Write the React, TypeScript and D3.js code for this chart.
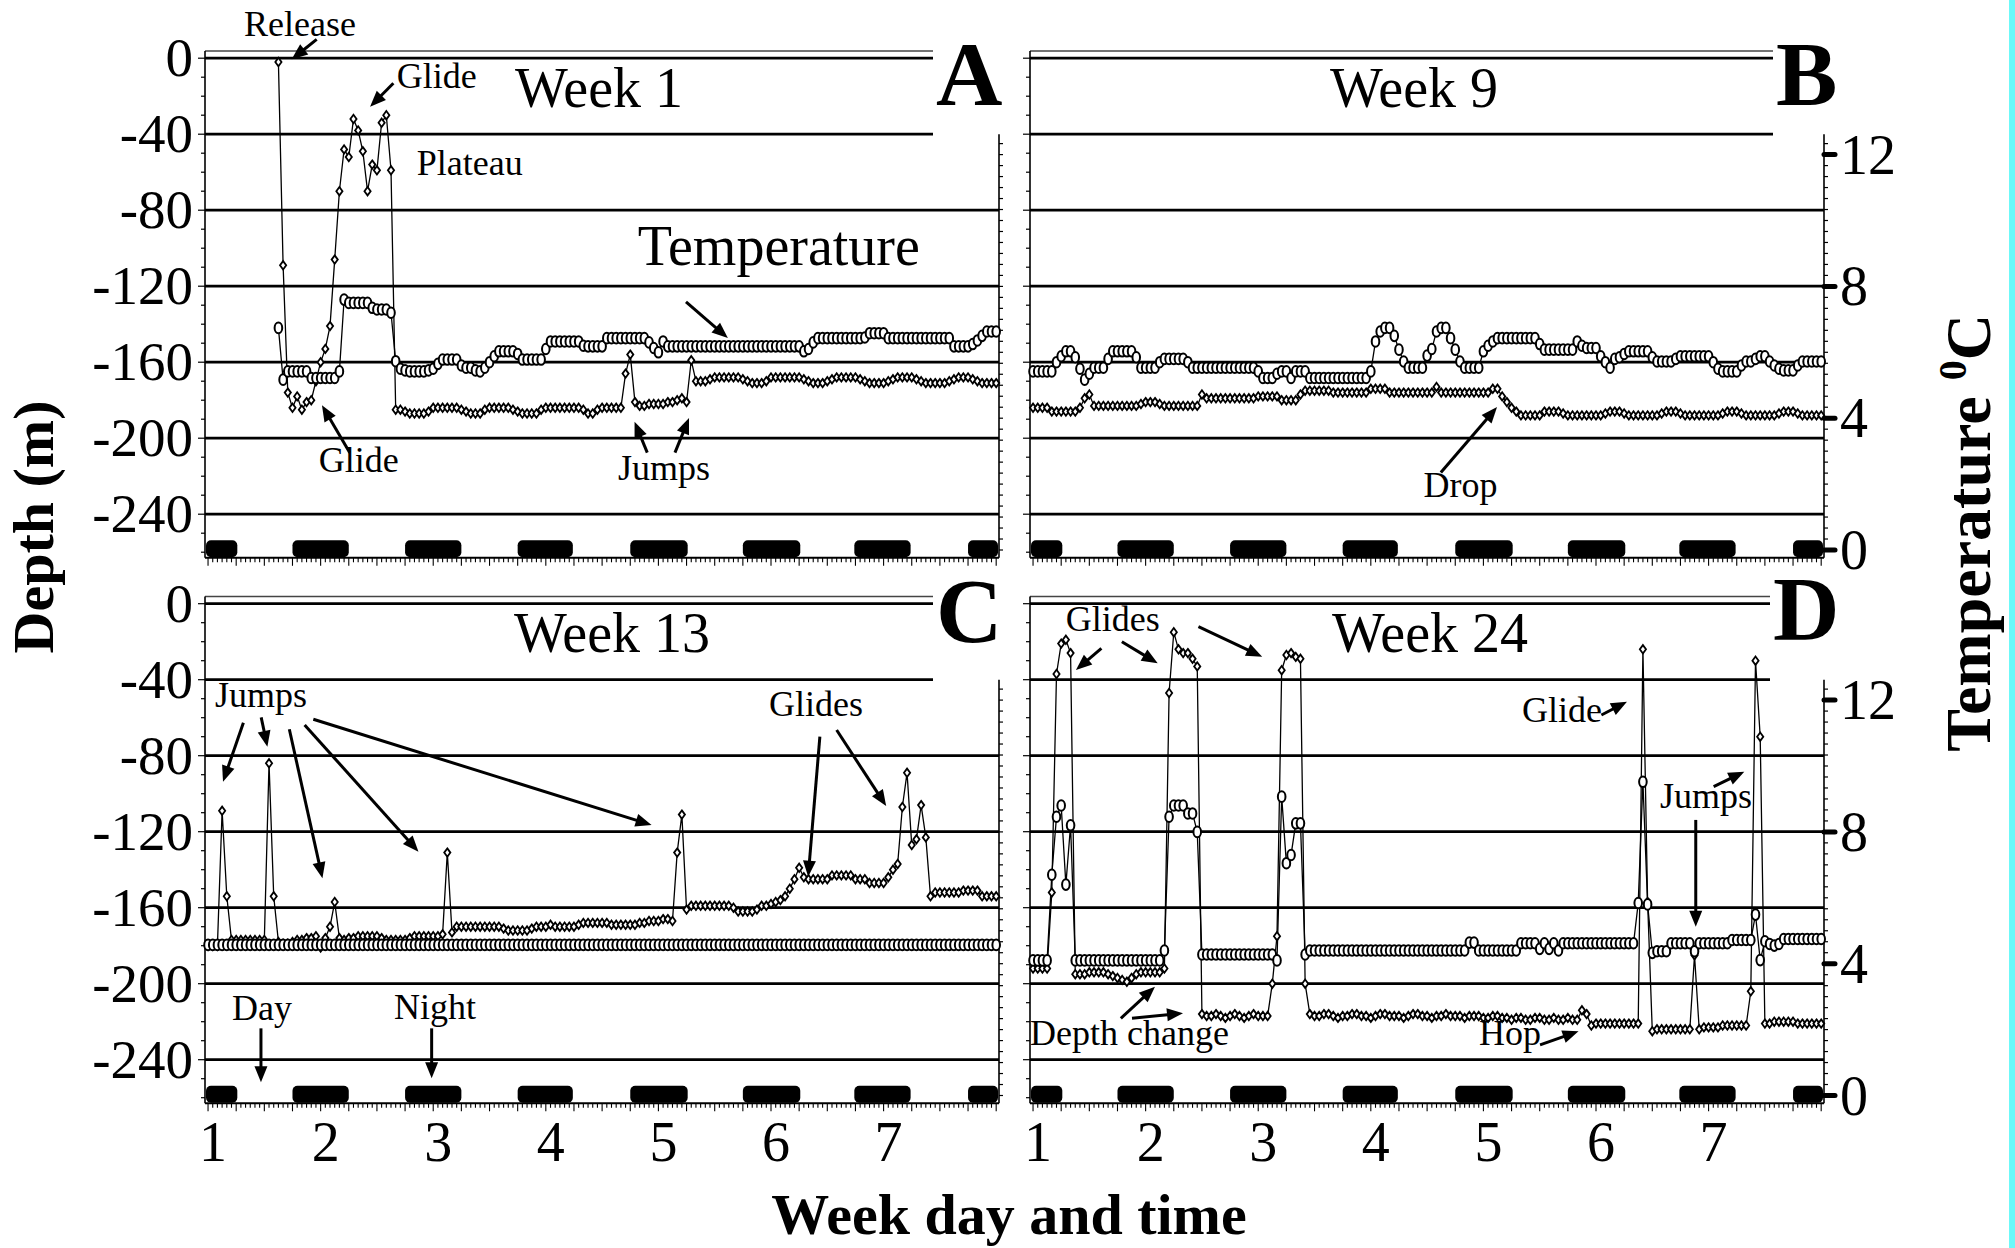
import React from "react";
import * as d3 from "d3";

const FONT = '"Liberation Serif", "Times New Roman", Times, serif';

// night periods (day units)
const nightStart = [0.75, 1.75, 2.75, 3.75, 4.75, 5.75, 6.74, 7.75];
const nightEnd = [1.26, 2.25, 3.25, 4.24, 5.26, 6.26, 7.24, 8.26];

const depthTicks = [0, -40, -80, -120, -160, -200, -240];
const tempTicks = [0, 4, 8, 12];
const dayTicks = [1, 2, 3, 4, 5, 6, 7];

// hourly samples; week 1 starts at release
const startA = 1.625;
const depthA = [
  -2, -109, -176, -184, -178, -185, -181, -180, -170, -160,
  -153, -141, -106, -70, -48, -52, -32, -38, -49, -70,
  -56, -59, -34, -30, -59, -185, -185, -186, -187, -187,
  -187, -187, -186, -184, -184, -184, -184, -184, -184, -185,
  -186, -187, -187, -187, -185, -184, -184, -184, -184, -184,
  -185, -186, -187, -187, -187, -187, -185, -184, -184, -184,
  -184, -184, -184, -184, -184, -185, -187, -187, -185, -184,
  -184, -184, -184, -184, -166, -156, -181, -183, -183, -182,
  -182, -182, -182, -181, -181, -180, -179, -181, -159, -170,
  -170, -170, -169, -168, -168, -168, -168, -168, -168, -169,
  -170, -171, -171, -171, -170, -168, -168, -168, -168, -168,
  -168, -168, -169, -170, -171, -171, -171, -170, -169, -168,
  -168, -168, -168, -168, -169, -170, -171, -171, -171, -171,
  -170, -169, -168, -168, -168, -168, -169, -170, -171, -171,
  -171, -171, -171, -170, -169, -168, -168, -168, -169, -170,
  -171, -171, -171, -171,
];
const tempA = [
  6.74, 5.17, 5.42, 5.42, 5.42, 5.42, 5.42, 5.22, 5.22, 5.22,
  5.22, 5.22, 5.22, 5.42, 7.6, 7.5, 7.5, 7.5, 7.5, 7.5,
  7.35, 7.3, 7.3, 7.3, 7.2, 5.73, 5.5, 5.45, 5.42, 5.42,
  5.42, 5.42, 5.45, 5.5, 5.65, 5.78, 5.78, 5.78, 5.78, 5.6,
  5.53, 5.53, 5.45, 5.42, 5.53, 5.7, 5.88, 6.03, 6.03, 6.03,
  6.03, 5.95, 5.78, 5.78, 5.78, 5.78, 5.78, 6.1, 6.33, 6.33,
  6.33, 6.33, 6.33, 6.33, 6.33, 6.2, 6.18, 6.18, 6.18, 6.18,
  6.43, 6.43, 6.43, 6.43, 6.43, 6.43, 6.43, 6.43, 6.43, 6.3,
  6.13, 6.0, 6.33, 6.18, 6.18, 6.18, 6.18, 6.18, 6.18, 6.18,
  6.18, 6.18, 6.18, 6.18, 6.18, 6.18, 6.18, 6.18, 6.18, 6.18,
  6.18, 6.18, 6.18, 6.18, 6.18, 6.18, 6.18, 6.18, 6.18, 6.18,
  6.18, 6.18, 6.03, 6.1, 6.3, 6.43, 6.43, 6.43, 6.43, 6.43,
  6.43, 6.43, 6.43, 6.43, 6.43, 6.45, 6.58, 6.58, 6.58, 6.58,
  6.43, 6.43, 6.43, 6.43, 6.43, 6.43, 6.43, 6.43, 6.43, 6.43,
  6.43, 6.43, 6.43, 6.43, 6.18, 6.18, 6.18, 6.18, 6.25, 6.36,
  6.5, 6.63, 6.63, 6.63,
];

const startB = 1;
const depthB = [
  -184, -184, -184, -184, -186, -186, -186, -186, -186, -186,
  -184, -179, -177, -183, -183, -183, -183, -183, -183, -183,
  -183, -183, -183, -182, -181, -181, -181, -182, -183, -183,
  -183, -183, -183, -183, -183, -183, -177, -179, -179, -179,
  -179, -179, -179, -179, -179, -179, -179, -179, -178, -178,
  -178, -178, -178, -180, -180, -180, -180, -177, -175, -175,
  -175, -175, -175, -175, -176, -176, -176, -176, -176, -176,
  -176, -176, -174, -174, -174, -174, -176, -176, -176, -176,
  -176, -176, -176, -176, -176, -176, -173, -176, -176, -176,
  -176, -176, -176, -176, -176, -176, -176, -176, -174, -174,
  -178, -181, -184, -186, -188, -188, -188, -188, -188, -186,
  -186, -186, -186, -187, -188, -188, -188, -188, -188, -188,
  -188, -188, -187, -186, -186, -186, -187, -188, -188, -188,
  -188, -188, -188, -188, -187, -186, -186, -186, -187, -188,
  -188, -188, -188, -188, -188, -188, -188, -187, -186, -186,
  -186, -187, -188, -188, -188, -188, -188, -188, -188, -187,
  -186, -186, -186, -187, -188, -188, -188, -188, -188,
];
const tempB = [
  5.42, 5.42, 5.42, 5.42, 5.42, 5.7, 5.88, 6.03, 6.03, 5.85,
  5.5, 5.17, 5.35, 5.53, 5.53, 5.53, 5.8, 6.03, 6.03, 6.03,
  6.03, 6.03, 5.85, 5.53, 5.53, 5.53, 5.53, 5.7, 5.8, 5.8,
  5.8, 5.8, 5.8, 5.7, 5.53, 5.53, 5.53, 5.53, 5.53, 5.53,
  5.53, 5.53, 5.53, 5.53, 5.53, 5.53, 5.53, 5.53, 5.42, 5.22,
  5.22, 5.22, 5.35, 5.42, 5.42, 5.22, 5.42, 5.42, 5.42, 5.22,
  5.22, 5.22, 5.22, 5.22, 5.22, 5.22, 5.22, 5.22, 5.22, 5.22,
  5.22, 5.22, 5.42, 6.33, 6.63, 6.74, 6.74, 6.5, 6.08, 5.72,
  5.53, 5.53, 5.53, 5.53, 5.9, 6.1, 6.63, 6.74, 6.74, 6.43,
  6.08, 5.72, 5.53, 5.53, 5.53, 5.53, 6.03, 6.2, 6.33, 6.43,
  6.43, 6.43, 6.43, 6.43, 6.43, 6.43, 6.43, 6.43, 6.25, 6.08,
  6.08, 6.08, 6.08, 6.08, 6.08, 6.08, 6.33, 6.2, 6.13, 6.13,
  6.13, 5.88, 5.7, 5.53, 5.8, 5.85, 5.95, 6.03, 6.03, 6.03,
  6.03, 6.03, 5.85, 5.72, 5.72, 5.72, 5.72, 5.8, 5.88, 5.88,
  5.88, 5.88, 5.88, 5.88, 5.88, 5.7, 5.5, 5.42, 5.42, 5.42,
  5.42, 5.6, 5.72, 5.72, 5.8, 5.88, 5.88, 5.72, 5.6, 5.5,
  5.45, 5.45, 5.45, 5.6, 5.72, 5.72, 5.72, 5.72, 5.72,
];

const startC = 1;
const depthC = [
  -180, -180, -180, -109, -154, -177, -177, -177, -177, -177,
  -177, -177, -177, -84, -154, -178, -179, -179, -178, -177,
  -177, -176, -176, -175, -181, -176, -170, -157, -176, -177,
  -176, -176, -175, -175, -175, -175, -175, -176, -177, -177,
  -177, -177, -177, -176, -175, -175, -175, -175, -175, -175,
  -174, -131, -173, -170, -170, -170, -170, -170, -170, -170,
  -170, -170, -170, -171, -172, -172, -172, -172, -172, -171,
  -170, -170, -170, -169, -170, -170, -170, -170, -170, -169,
  -168, -168, -168, -168, -168, -168, -169, -169, -169, -169,
  -169, -169, -168, -168, -167, -167, -167, -166, -166, -167,
  -131, -111, -161, -159, -159, -159, -159, -159, -159, -159,
  -159, -159, -160, -162, -162, -162, -162, -161, -159, -159,
  -158, -157, -156, -154, -150, -145, -139, -144, -145, -145,
  -145, -145, -145, -143, -143, -143, -143, -143, -145, -145,
  -145, -147, -147, -147, -147, -144, -140, -137, -107, -89,
  -127, -124, -106, -123, -154, -152, -152, -152, -152, -152,
  -152, -151, -151, -151, -151, -154, -154, -154, -154,
];
const tempC = [
  4.57, 4.57, 4.57, 4.57, 4.57, 4.57, 4.57, 4.57, 4.57, 4.57,
  4.57, 4.57, 4.57, 4.57, 4.57, 4.57, 4.57, 4.57, 4.57, 4.57,
  4.57, 4.57, 4.57, 4.57, 4.57, 4.57, 4.57, 4.57, 4.57, 4.57,
  4.57, 4.57, 4.57, 4.57, 4.57, 4.57, 4.57, 4.57, 4.57, 4.57,
  4.57, 4.57, 4.57, 4.57, 4.57, 4.57, 4.57, 4.57, 4.57, 4.57,
  4.57, 4.57, 4.57, 4.57, 4.57, 4.57, 4.57, 4.57, 4.57, 4.57,
  4.57, 4.57, 4.57, 4.57, 4.57, 4.57, 4.57, 4.57, 4.57, 4.57,
  4.57, 4.57, 4.57, 4.57, 4.57, 4.57, 4.57, 4.57, 4.57, 4.57,
  4.57, 4.57, 4.57, 4.57, 4.57, 4.57, 4.57, 4.57, 4.57, 4.57,
  4.57, 4.57, 4.57, 4.57, 4.57, 4.57, 4.57, 4.57, 4.57, 4.57,
  4.57, 4.57, 4.57, 4.57, 4.57, 4.57, 4.57, 4.57, 4.57, 4.57,
  4.57, 4.57, 4.57, 4.57, 4.57, 4.57, 4.57, 4.57, 4.57, 4.57,
  4.57, 4.57, 4.57, 4.57, 4.57, 4.57, 4.57, 4.57, 4.57, 4.57,
  4.57, 4.57, 4.57, 4.57, 4.57, 4.57, 4.57, 4.57, 4.57, 4.57,
  4.57, 4.57, 4.57, 4.57, 4.57, 4.57, 4.57, 4.57, 4.57, 4.57,
  4.57, 4.57, 4.57, 4.57, 4.57, 4.57, 4.57, 4.57, 4.57, 4.57,
  4.57, 4.57, 4.57, 4.57, 4.57, 4.57, 4.57, 4.57, 4.57,
];

const startD = 1;
const depthD = [
  -192, -192, -192, -192, -152, -37, -21, -19, -26, -195,
  -195, -195, -194, -194, -194, -194, -195, -196, -197, -198,
  -199, -197, -195, -194, -194, -194, -194, -194, -192, -47,
  -15, -24, -26, -26, -29, -33, -216, -217, -217, -216,
  -217, -218, -217, -216, -217, -218, -217, -216, -217, -217,
  -217, -200, -175, -35, -27, -26, -28, -29, -200, -216,
  -217, -217, -216, -216, -217, -218, -217, -217, -216, -216,
  -217, -217, -218, -217, -216, -216, -217, -217, -217, -218,
  -217, -216, -216, -217, -217, -218, -217, -217, -216, -217,
  -217, -217, -218, -217, -217, -217, -218, -218, -217, -217,
  -218, -218, -219, -218, -218, -219, -219, -218, -218, -219,
  -219, -218, -219, -219, -218, -219, -219, -214, -216, -222,
  -221, -221, -221, -221, -221, -221, -221, -221, -221, -221,
  -24, -157, -225, -224, -224, -224, -224, -224, -224, -224,
  -224, -185, -224, -223, -223, -223, -223, -222, -222, -222,
  -222, -222, -222, -204, -30, -70, -221, -221, -220, -220,
  -220, -220, -220, -221, -221, -221, -221, -221, -221,
];
const tempD = [
  4.1, 4.1, 4.1, 4.1, 6.7, 8.46, 8.8, 6.4, 8.2, 4.1,
  4.1, 4.1, 4.1, 4.1, 4.1, 4.1, 4.1, 4.1, 4.1, 4.1,
  4.1, 4.1, 4.1, 4.1, 4.1, 4.1, 4.1, 4.1, 4.4, 8.46,
  8.8, 8.8, 8.8, 8.56, 8.56, 8.0, 4.28, 4.28, 4.28, 4.28,
  4.28, 4.28, 4.28, 4.28, 4.28, 4.28, 4.28, 4.28, 4.28, 4.28,
  4.28, 4.28, 4.1, 9.07, 7.05, 7.3, 8.26, 8.26, 4.28, 4.4,
  4.4, 4.4, 4.4, 4.4, 4.4, 4.4, 4.4, 4.4, 4.4, 4.4,
  4.4, 4.4, 4.4, 4.4, 4.4, 4.4, 4.4, 4.4, 4.4, 4.4,
  4.4, 4.4, 4.4, 4.4, 4.4, 4.4, 4.4, 4.4, 4.4, 4.4,
  4.4, 4.4, 4.4, 4.64, 4.64, 4.4, 4.4, 4.4, 4.4, 4.4,
  4.4, 4.4, 4.4, 4.4, 4.62, 4.62, 4.62, 4.62, 4.45, 4.62,
  4.45, 4.62, 4.4, 4.62, 4.62, 4.62, 4.62, 4.62, 4.62, 4.62,
  4.62, 4.62, 4.62, 4.62, 4.62, 4.62, 4.62, 4.62, 4.62, 5.84,
  9.52, 5.8, 4.33, 4.38, 4.38, 4.38, 4.62, 4.62, 4.62, 4.62,
  4.62, 4.38, 4.62, 4.62, 4.62, 4.62, 4.62, 4.62, 4.62, 4.72,
  4.72, 4.72, 4.72, 4.72, 5.49, 4.11, 4.68, 4.6, 4.55, 4.6,
  4.75, 4.75, 4.75, 4.75, 4.75, 4.75, 4.75, 4.75, 4.75,
];

// annotation layout, in (day, depth) units of each panel
type Note = { t: string; d: number; v: number; size?: number; anchor?: string };
type Arr = [number, number, number, number];

const notesA: Note[] = [
  { t: "Release", d: 1.817, v: 11.7, anchor: "middle" },
  { t: "Glide", d: 2.676, v: -15.7 },
  { t: "Plateau", d: 2.853, v: -61.5 },
  { t: "Temperature", d: 4.816, v: -108.8, size: 56 },
  { t: "Glide", d: 1.984, v: -217.8 },
  { t: "Jumps", d: 4.641, v: -222 },
];
const arrowsA: Arr[] = [
  [1.965, 9.9, 1.743, -0.6],
  [2.646, -13.2, 2.439, -25.5],
  [5.245, -128.2, 5.617, -147.3],
  [2.259, -207.6, 2.012, -182.7],
  [4.901, -207.6, 4.788, -191.3],
  [5.147, -207.6, 5.272, -189.4],
];
const notesB: Note[] = [{ t: "Drop", d: 4.468, v: -230.9 }];
const arrowsB: Arr[] = [[4.622, -218.1, 5.121, -183.6]];
const notesC: Note[] = [
  { t: "Jumps", d: 1.062, v: -54.4 },
  { t: "Glides", d: 5.982, v: -59.1 },
  { t: "Day", d: 1.213, v: -218.9 },
  { t: "Night", d: 2.652, v: -218.6 },
];
const arrowsC: Arr[] = [
  [1.314, -62.6, 1.133, -93.7],
  [1.472, -59.8, 1.527, -75.3],
  [1.722, -66.1, 2.016, -144.5],
  [1.858, -63.8, 2.869, -130.5],
  [1.935, -60.8, 4.939, -116.5],
  [6.434, -70, 6.33, -143.7],
  [6.583, -66.5, 7.023, -106.5],
  [1.47, -223.5, 1.47, -251.9],
  [2.986, -223.5, 2.986, -249.8],
];
const notesD: Note[] = [
  { t: "Glides", d: 1.29, v: -14.4 },
  { t: "Glide", d: 5.343, v: -62.1 },
  { t: "Jumps", d: 6.568, v: -107.5 },
  { t: "Depth change", d: 0.973, v: -232.2 },
  { t: "Hop", d: 4.961, v: -232.2 },
];
const arrowsD: Arr[] = [
  [1.607, -23.5, 1.381, -34.9],
  [1.789, -20, 2.107, -31.4],
  [2.469, -12.1, 3.035, -27.9],
  [6.048, -58.6, 6.275, -51.6],
  [7.045, -96.3, 7.317, -88.4],
  [6.886, -113.8, 6.886, -170],
  [1.78, -218.2, 2.083, -201.6],
  [1.879, -218.2, 2.332, -215.5],
  [5.503, -232.2, 5.845, -225],
];

const X_DOMAIN: [number, number] = [0.973, 8.025];
const PW = 794;
const ROW = 545.5;

function Arrow({ x1, y1, x2, y2 }: { x1: number; y1: number; x2: number; y2: number }) {
  const dx = x2 - x1, dy = y2 - y1;
  const len = Math.hypot(dx, dy);
  const ux = dx / len, uy = dy / len;
  const L = 16, hw = 6.5;
  const bx = x2 - ux * L, by = y2 - uy * L;
  const px = -uy * hw, py = ux * hw;
  return (
    <g>
      <line x1={x1} y1={y1} x2={bx + ux * 3} y2={by + uy * 3} stroke="#000" strokeWidth={3} />
      <polygon points={`${x2},${y2} ${bx + px},${by + py} ${bx - px},${by - py}`} fill="#000" />
    </g>
  );
}

type PanelProps = {
  left: number; top: number; start: number; depth: number[]; temp: number[];
  title: string; titleX: number; titleY: number; letter: string; letterX: number; letterY: number;
  leftLabels: boolean; rightLabels: boolean; xLabels: boolean;
  notes: Note[]; arrows: Arr[];
};

function Panel(p: PanelProps) {
  const x = d3.scaleLinear().domain(X_DOMAIN).range([p.left, p.left + PW]);
  const yD = d3.scaleLinear().domain([0, -240]).range([p.top + 58.2, p.top + 514.2]);
  const yT = d3.scaleLinear().domain([0, 12]).range([p.top + 550, p.top + 154.6]);
  const right = p.left + PW;
  const top = p.top + 51;
  const bottom = p.top + 557.8;
  const boxX = p.letterX - 3;
  const tx = (i: number) => x(p.start + i / 24);
  const lineD = d3.line<number>().x((_, i) => tx(i)).y((v) => yD(v));
  const lineT = d3.line<number>().x((_, i) => tx(i)).y((v) => yT(v));
  const hours = d3.range(0, 169).map((k) => 1 + k / 24).filter((d) => d >= X_DOMAIN[0] && d <= X_DOMAIN[1]);
  const leftT = d3.range(0, -261, -10);
  const rightT = d3.range(0, 40).map((k) => k / 3).filter((t) => yT(t) >= yD(-40));

  return (
    <g>
      {/* night bars */}
      {nightStart.map((s, i) => {
        const x0 = Math.max(x(s), p.left + 1);
        const x1 = Math.min(x(nightEnd[i]), right - 1);
        if (x1 <= x0) return null;
        return <rect key={i} x={x0} y={bottom - 17.5} width={x1 - x0} height={17} rx={5} fill="#000" />;
      })}
      {/* gridlines */}
      {depthTicks.map((d) => (
        <line key={d} x1={p.left} x2={d >= -40 ? boxX : right} y1={yD(d)} y2={yD(d)} stroke="#000" strokeWidth={2.8} />
      ))}
      {/* frame */}
      <line x1={p.left} x2={boxX} y1={top} y2={top} stroke="#444" strokeWidth={1.3} />
      <line x1={p.left} x2={p.left} y1={top} y2={bottom} stroke="#000" strokeWidth={1.6} />
      <line x1={right} x2={right} y1={yD(-40)} y2={bottom} stroke="#000" strokeWidth={1.6} />
      <line x1={p.left} x2={right} y1={bottom} y2={bottom} stroke="#000" strokeWidth={2} />
      {leftT.map((d) => (
        <line key={d} x1={p.left} x2={p.left - (d % 40 === 0 ? 7 : 4)} y1={yD(d)} y2={yD(d)} stroke="#000" strokeWidth={1.2} />
      ))}
      {rightT.map((t, i) => (
        <line key={i} x1={right} x2={right + 4} y1={yT(t)} y2={yT(t)} stroke="#000" strokeWidth={1.2} />
      ))}
      {p.rightLabels && tempTicks.map((t) => (
        <line key={t} x1={right} x2={right + 11} y1={yT(t)} y2={yT(t)} stroke="#000" strokeWidth={5} strokeLinecap="round" />
      ))}
      {hours.map((d, i) => {
        const k = Math.round((d - 1) * 24);
        return <line key={i} x1={x(d)} x2={x(d)} y1={bottom} y2={bottom + (k % 6 === 0 ? 8 : 4.5)} stroke="#000" strokeWidth={1.1} />;
      })}
      {/* labels */}
      {p.leftLabels && depthTicks.map((d) => (
        <text key={d} x={p.left - 12} y={yD(d) + 18} fontSize={55} textAnchor="end">{d}</text>
      ))}
      {p.rightLabels && tempTicks.map((t) => (
        <text key={t} x={right + 16} y={yT(t) + 19} fontSize={56}>{t}</text>
      ))}
      {p.xLabels && dayTicks.map((d) => (
        <text key={d} x={x(d) + 5} y={bottom + 58} fontSize={56} textAnchor="middle">{d}</text>
      ))}
      <text x={p.titleX} y={p.top + p.titleY} fontSize={56} textAnchor="middle">{p.title}</text>
      <text x={p.letterX} y={p.top + p.letterY} fontSize={92} fontWeight="bold">{p.letter}</text>
      {/* series */}
      <path d={lineD(p.depth) || ""} fill="none" stroke="#000" strokeWidth={1.3} />
      <path d={lineT(p.temp) || ""} fill="none" stroke="#000" strokeWidth={1.3} />
      {p.depth.map((v, i) => {
        const cx = tx(i), cy = yD(v);
        return <path key={"d" + i} d={`M${cx},${cy - 4.2}L${cx + 3.1},${cy}L${cx},${cy + 4.2}L${cx - 3.1},${cy}Z`} fill="#fff" stroke="#000" strokeWidth={1.8} />;
      })}
      {p.temp.map((v, i) => (
        <ellipse key={"t" + i} cx={tx(i)} cy={yT(v)} rx={3.8} ry={5.3} fill="#fff" stroke="#000" strokeWidth={2} />
      ))}
      {/* annotations */}
      {p.notes.map((n, i) => (
        <text key={i} x={x(n.d)} y={yD(n.v)} fontSize={n.size || 36} textAnchor={n.anchor || "start"}>{n.t}</text>
      ))}
      {p.arrows.map((a, i) => (
        <Arrow key={i} x1={x(a[0])} y1={yD(a[1])} x2={x(a[2])} y2={yD(a[3])} />
      ))}
    </g>
  );
}

export default function App() {
  return (
    <svg width={2015} height={1248} style={{ position: "absolute", left: 0, top: 0, background: "#fff" }} fontFamily={FONT}>
      <rect x={0} y={0} width={2015} height={1248} fill="#fff" />
      <Panel left={205} top={0} start={startA} depth={depthA} temp={tempA} title="Week 1" titleX={599} titleY={107}
        letter="A" letterX={936} letterY={105} leftLabels rightLabels={false} xLabels={false} notes={notesA} arrows={arrowsA} />
      <Panel left={1030} top={0} start={startB} depth={depthB} temp={tempB} title="Week 9" titleX={1414} titleY={107}
        letter="B" letterX={1776} letterY={105} leftLabels={false} rightLabels xLabels={false} notes={notesB} arrows={arrowsB} />
      <Panel left={205} top={ROW} start={startC} depth={depthC} temp={tempC} title="Week 13" titleX={612} titleY={106.5}
        letter="C" letterX={936} letterY={96} leftLabels rightLabels={false} xLabels notes={notesC} arrows={arrowsC} />
      <Panel left={1030} top={ROW} start={startD} depth={depthD} temp={tempD} title="Week 24" titleX={1430} titleY={106.5}
        letter="D" letterX={1773} letterY={94} leftLabels={false} rightLabels xLabels notes={notesD} arrows={arrowsD} />
      <text transform="translate(53,527) rotate(-90)" fontSize={58} fontWeight="bold" textAnchor="middle">Depth (m)</text>
      <text transform="translate(1990,533) rotate(-90)" fontSize={64} fontWeight="bold" textAnchor="middle">
        Temperature <tspan fontSize={40} dy={-24}>0</tspan><tspan dy={24}>C</tspan>
      </text>
      <text x={1009} y={1234} fontSize={58} fontWeight="bold" textAnchor="middle">Week day and time</text>
      <rect x={2009} y={0} width={6} height={1248} fill="#6cf9f9" />
    </svg>
  );
}
